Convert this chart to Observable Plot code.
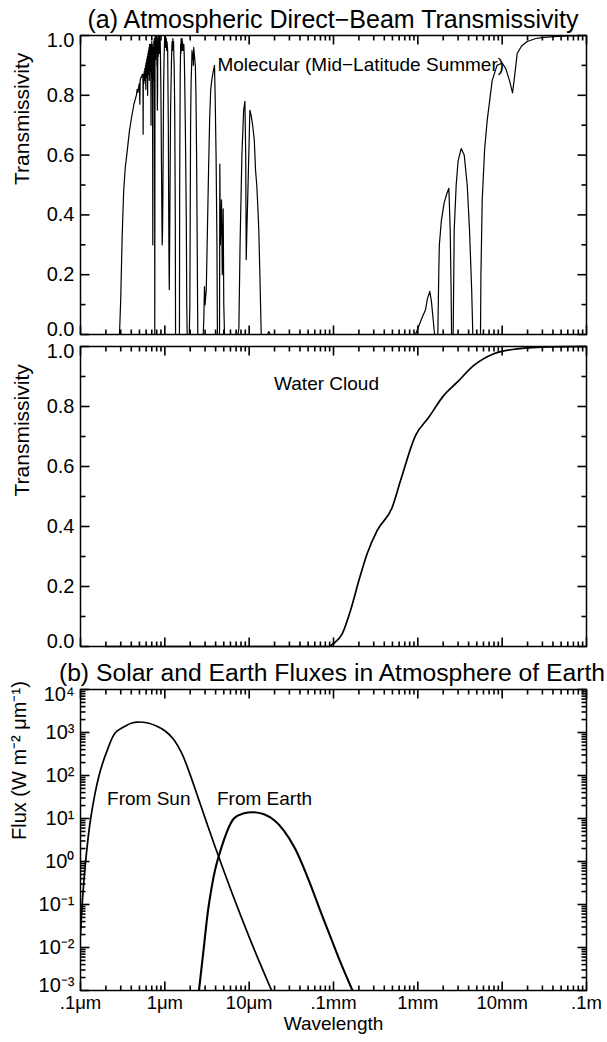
<!DOCTYPE html>
<html><head><meta charset="utf-8">
<script src="https://cdn.jsdelivr.net/npm/d3@7"></script>
<script src="https://cdn.jsdelivr.net/npm/@observablehq/plot@0.6"></script>
<style>
body{margin:0;background:#fff;}
#wrap{position:relative;width:607px;height:1042px;font-family:"Liberation Sans",Arial,Helvetica,sans-serif;color:#000;overflow:hidden;}
.title{position:absolute;height:38px;line-height:38px;text-align:center;white-space:nowrap;}
</style></head><body><div id="wrap">
<div class="title" style="top:0px;left:59px;width:548px;font-size:25px">(a) Atmospheric Direct−Beam Transmissivity</div>
<div class="title" style="top:654px;left:0px;width:664px;font-size:24.7px">(b) Solar and Earth Fluxes in Atmosphere of Earth</div>
</div>
<script>
// ---------- data ----------
const xTickValues = [0.1, 1, 10, 100, 1000, 10000, 100000];          // wavelength, µm
const xTickLabels = [".1μm", "1μm", "10μm", ".1mm", "1mm", "10mm", ".1m"];
const transTickValues = [0, 0.2, 0.4, 0.6, 0.8, 1.0];
const transTickLabels = ["0.0", "0.2", "0.4", "0.6", "0.8", "1.0"];
const fluxTickValues = [1e-3, 1e-2, 1e-1, 1, 10, 100, 1000, 10000];
const fluxTickLabels = ["10⁻³", "10⁻²", "10⁻¹", "10⁰", "10¹", "10²", "10³", "10⁴"];

// Molecular (mid-latitude summer) transmissivity
const molWl = [0.1, 0.29, 0.30, 0.312, 0.325, 0.34, 0.357, 0.38, 0.40, 0.43, 0.449, 0.46, 0.47, 0.48, 0.49, 0.50, 0.505, 0.51,
  0.52, 0.53, 0.54, 0.55, 0.553, 0.556, 0.565, 0.57, 0.575, 0.58, 0.585, 0.59, 0.595, 0.60, 0.605, 0.61, 0.615, 0.62, 0.625,
  0.63, 0.635, 0.64, 0.645, 0.65, 0.655, 0.66, 0.665, 0.67, 0.675, 0.68, 0.686, 0.69, 0.695, 0.70, 0.705, 0.71, 0.715, 0.72,
  0.725, 0.73, 0.735, 0.74, 0.745, 0.75, 0.755, 0.76, 0.765, 0.77, 0.775, 0.78, 0.785, 0.79, 0.795, 0.80, 0.805, 0.81, 0.815,
  0.82, 0.825, 0.83, 0.835, 0.84, 0.845, 0.85, 0.855, 0.86, 0.865, 0.87, 0.875, 0.88, 0.885,
  0.89, 0.90, 0.91, 0.92, 0.93, 0.94, 0.95, 0.96, 0.97, 0.98, 0.99, 1.0, 1.01, 1.02, 1.03, 1.04, 1.05, 1.06, 1.08, 1.10, 1.11,
  1.12, 1.13, 1.14, 1.15, 1.17, 1.2, 1.21, 1.22, 1.23, 1.245, 1.26, 1.27, 1.28, 1.29, 1.31, 1.33, 1.34, 1.49, 1.50, 1.52, 1.54,
  1.55, 1.56, 1.57, 1.58, 1.59, 1.6, 1.61, 1.62, 1.63, 1.64, 1.66, 1.68, 1.7, 1.72, 1.75, 1.78, 1.8, 1.82, 1.84, 1.95, 1.98,
  2.0, 2.02, 2.05, 2.08, 2.1, 2.12, 2.15, 2.18, 2.2, 2.25, 2.3, 2.34, 2.38, 2.42, 2.46, 2.85, 2.9, 2.95, 3.0, 3.1, 3.2, 3.3,
  3.4, 3.5, 3.6, 3.75, 3.88, 3.95, 4.05, 4.15, 4.2, 4.45, 4.49, 4.55, 4.7, 4.8, 4.92, 5.0, 5.1, 7.35, 7.55, 7.8, 8.2, 8.6,
  8.9, 9.1, 9.23, 9.4, 9.7, 10.2, 10.6, 11.0, 11.5, 11.9, 12.3, 12.7, 13.0, 13.4, 13.9, 16.5, 17.1, 17.8,
  937, 1000, 1100, 1233, 1300, 1387, 1450, 1520, 1578, 1726, 1775, 1800, 1900, 2050, 2200, 2333, 2420, 2480, 2512,
  2624, 2700, 2850, 3000, 3266, 3550, 3850, 4100, 4350, 4487, 5533, 5600, 5800, 6200, 6650, 7620, 8700, 10000, 11000,
  12200, 13270, 14000, 15070, 17000, 19800, 25000, 31200, 50000, 100000];
const molT = [0, 0, 0.12, 0.33, 0.48, 0.56, 0.61, 0.68, 0.72, 0.77, 0.79, 0.80, 0.82, 0.81, 0.83, 0.84, 0.77, 0.85,
  0.86, 0.86, 0.87, 0.87, 0.67, 0.87, 0.84, 0.88, 0.85, 0.89, 0.86, 0.90, 0.82, 0.91, 0.87, 0.92, 0.86, 0.93, 0.80,
  0.94, 0.88, 0.95, 0.87, 0.96, 0.85, 0.97, 0.88, 0.97, 0.90, 0.96, 0.70, 0.97, 0.90, 0.98, 0.86, 0.97, 0.80, 0.30,
  0.75, 0.96, 0.85, 0.98, 0.90, 0.99, 0.93, 0.0, 0.97, 1.0, 0.92, 0.99, 0.94, 1.0, 0.95, 1.0, 0.90, 0.93, 0.75,
  0.80, 0.95, 0.99, 0.93, 1.0, 0.95, 1.0, 0.96, 1.0, 0.94, 1.0, 0.97, 0.99, 0.95,
  0.90, 0.80, 0.60, 0.45, 0.30, 0.35, 0.50, 0.70, 0.85, 0.93, 0.97, 0.99, 0.96, 1.0, 0.97, 0.99, 0.95, 0.98, 0.95, 0.70, 0.45,
  0.25, 0.15, 0.30, 0.45, 0.75, 0.92, 0.96, 0.98, 0.95, 0.99, 0.96, 0.98, 0.93, 0.90, 0.75, 0.40, 0.0, 0.0, 0.50, 0.85, 0.97,
  0.94, 0.99, 0.96, 0.98, 0.95, 0.99, 0.96, 0.98, 0.95, 0.97, 0.95, 0.97, 0.93, 0.85, 0.70, 0.50, 0.35, 0.10, 0.0, 0.0, 0.10,
  0.40, 0.70, 0.85, 0.90, 0.95, 0.92, 0.94, 0.90, 0.96, 0.93, 0.90, 0.80, 0.60, 0.30, 0.0, 0.0, 0.05, 0.16, 0.10, 0.15, 0.35, 0.55,
  0.72, 0.82, 0.85, 0.88, 0.90, 0.80, 0.60, 0.30, 0.0, 0.0, 0.57, 0.30, 0.45, 0.20, 0.42, 0.10, 0.0, 0.0, 0.02, 0.30, 0.60, 0.75,
  0.78, 0.60, 0.25, 0.35, 0.50, 0.75, 0.73, 0.70, 0.65, 0.55, 0.50, 0.42, 0.35, 0.20, 0.0, 0.0, 0.01, 0.0,
  0.0, 0.02, 0.05, 0.083, 0.12, 0.144, 0.11, 0.05, 0.0, 0.0, 0.22, 0.3, 0.38, 0.44, 0.47, 0.489, 0.35, 0.15, 0.0,
  0.0, 0.35, 0.5, 0.58, 0.622, 0.6, 0.5, 0.35, 0.15, 0.0, 0.0, 0.2, 0.45, 0.62, 0.717, 0.85, 0.9, 0.908, 0.89,
  0.85, 0.808, 0.86, 0.94, 0.965, 0.98, 0.99, 0.994, 0.998, 1.0];

// Water cloud transmissivity
const cloudWl = [0.2, 89, 96.6, 126.8, 159, 200, 251, 330, 497, 624, 938, 1349, 2032, 2931, 4613, 7962, 15070, 37410, 97700];
const cloudT  = [0, 0, 0.007, 0.042, 0.12, 0.22, 0.31, 0.387, 0.464, 0.553, 0.703, 0.764, 0.837, 0.881, 0.937, 0.976, 0.992, 0.999, 1.0];

// Fluxes, W m^-2 µm^-1
const sunWl   = [0.1, 0.1047, 0.115, 0.132, 0.166, 0.209, 0.26, 0.355, 0.407, 0.47, 0.631, 0.794, 1.0, 1.259, 1.585, 1.995,
  2.512, 3.162, 3.981, 5.012, 6.31, 7.943, 10, 12.59, 15.85, 19.95];
const sunFlux = [0.02, 0.1, 1, 10, 100, 400, 1000, 1480, 1660, 1750, 1660, 1413, 1096, 708, 331, 105,
  28.2, 7.6, 2.09, 0.60, 0.178, 0.055, 0.0174, 0.0058, 0.002, 0.0007];
const earthWl   = [2.54, 2.90, 3.33, 4.18, 6.58, 8.5, 11.35, 15, 20, 25.8, 35, 50, 70, 92.3, 120, 168];
const earthFlux = [0.001, 0.01, 0.1, 1, 10, 13, 14, 12.5, 9, 5.25, 2, 0.4, 0.07, 0.0174, 0.0047, 0.001];

// ---------- helpers ----------
const FONT = '"Liberation Sans", Arial, Helvetica, sans-serif';
const W = 607, ML = 80, MR = 21, innerW = W - ML - MR;
const X_LO = 0.1, X_HI = 1e5;
const zip = (xs, ys) => xs.map((x, i) => ({x, y: ys[i]}));
const xMinor = [];
for (let e = -1; e < 5; e++) for (let m = 2; m <= 9; m++) xMinor.push(m * 10 ** e);

// inward tick marks on all four sides, drawn as short segments (lengths converted from pixels)
function boxTicks(innerH, yMaj, yMin, yLog, yDomain) {
  const xPx = innerW / 6;
  const ya = yDomain[0], yb = yDomain[1];
  const yUp = L => yLog ? ya * 10 ** (L * Math.log10(yb / ya) / innerH) : ya + L * (yb - ya) / innerH;
  const yDn = L => yLog ? yb / 10 ** (L * Math.log10(yb / ya) / innerH) : yb - L * (yb - ya) / innerH;
  const segs = [];
  let id = 0;
  const add = (x1, y1, x2, y2) => { segs.push({x: x1, y: y1, id}, {x: x2, y: y2, id}); id++; };
  [[xTickValues, 9], [xMinor, 5]].forEach(([vals, L]) => vals.forEach(v => { add(v, ya, v, yUp(L)); add(v, yDn(L), v, yb); }));
  [[yMaj, 9], [yMin, 5]].forEach(([vals, L]) => vals.forEach(v => { add(X_LO, v, X_LO * 10 ** (L / xPx), v); add(X_HI / 10 ** (L / xPx), v, X_HI, v); }));
  return [
    Plot.line(segs, {x: "x", y: "y", z: "id", stroke: "#000", strokeWidth: 1.6, strokeLinecap: "butt"}),
    Plot.frame({stroke: "#000", strokeWidth: 1.5})
  ];
}
function yLabels(vals, labels, size) {
  const n = vals.length;
  return Plot.text(vals, {y: d => d, text: (d, i) => labels[i], frameAnchor: "left", textAnchor: "end", dx: -6,
    fontSize: size, fill: "#000",
    // the end labels sit just inside the frame, as in the reference
    render: (index, scales, values, dims, ctx, next) => {
      const g = next(index, scales, values, dims, ctx);
      g.querySelectorAll("text").forEach((t, k) => {
        const i = index[k];
        if (i === 0) t.setAttribute("transform", (t.getAttribute("transform") || "") + " translate(0,-5)");
        if (i === n - 1) t.setAttribute("transform", (t.getAttribute("transform") || "") + " translate(0,5)");
      });
      return g;
    }});
}
function yTitle(t, size, dx) {
  return Plot.text([t], {frameAnchor: "left", rotate: -90, dx, fontSize: size, fill: "#000"});
}
const transMinor = [0.1, 0.3, 0.5, 0.7, 0.9];
const style = {fontFamily: FONT, background: "transparent", overflow: "visible"};
const wrap = document.getElementById("wrap");
function place(svg, top) { svg.style.position = "absolute"; svg.style.top = top + "px"; svg.style.left = "0px"; wrap.appendChild(svg); }

// ---------- panel 1 ----------
const p1 = Plot.plot({
  width: W, height: 352, marginTop: 35, marginBottom: 18, marginLeft: ML, marginRight: MR, style,
  x: {type: "log", domain: [X_LO, X_HI], axis: null}, y: {domain: [0, 1], axis: null},
  marks: [
    Plot.line(zip(molWl, molT), {x: "x", y: "y", stroke: "#000", strokeWidth: 1.2}),
    ...boxTicks(299, transTickValues, transMinor, false, [0, 1]),
    yLabels(transTickValues, transTickLabels, 20),
    yTitle("Transmissivity", 21, -58),
    Plot.text(["Molecular (Mid−Latitude Summer)"], {x: 4.2, y: 0.9, textAnchor: "start", fontSize: 19, fill: "#000"})
  ]
});
place(p1, 0);

// ---------- panel 2 ----------
const p2 = Plot.plot({
  width: W, height: 340, marginTop: 18, marginBottom: 22, marginLeft: ML, marginRight: MR, style,
  x: {type: "log", domain: [X_LO, X_HI], axis: null}, y: {domain: [0, 1], axis: null},
  marks: [
    Plot.line(zip(cloudWl, cloudT), {x: "x", y: "y", stroke: "#000", strokeWidth: 1.7, curve: "monotone-x"}),
    ...boxTicks(300, transTickValues, transMinor, false, [0, 1]),
    yLabels(transTickValues, transTickLabels, 20),
    yTitle("Transmissivity", 21, -58),
    Plot.text(["Water Cloud"], {x: 82.6, y: 0.875, textAnchor: "middle", fontSize: 19, fill: "#000"})
  ]
});
place(p2, 328);

// ---------- panel 3 ----------
const fluxMinor = [];
for (let e = -3; e < 4; e++) for (let m = 2; m <= 9; m++) fluxMinor.push(m * 10 ** e);
const p3 = Plot.plot({
  width: W, height: 390, marginTop: 37, marginBottom: 52, marginLeft: ML, marginRight: MR, style,
  x: {type: "log", domain: [X_LO, X_HI], axis: null}, y: {type: "log", domain: [1e-3, 1e4], axis: null},
  marks: [
    Plot.line(zip(sunWl, sunFlux), {x: "x", y: "y", stroke: "#000", strokeWidth: 1.7, curve: "catmull-rom", clip: true}),
    Plot.line(zip(earthWl, earthFlux), {x: "x", y: "y", stroke: "#000", strokeWidth: 2.1, curve: "catmull-rom", clip: true}),
    ...boxTicks(301, fluxTickValues, fluxMinor, true, [1e-3, 1e4]),
    yLabels(fluxTickValues, fluxTickLabels, 20),
    yTitle("Flux (W m⁻² μm⁻¹)", 20, -61),
    Plot.text(xTickValues, {x: d => d, text: (d, i) => xTickLabels[i], frameAnchor: "bottom", dy: 18, fontSize: 18.5, fill: "#000"}),
    Plot.text(["Wavelength"], {frameAnchor: "bottom", dy: 39, fontSize: 19, fill: "#000"}),
    Plot.text(["From Sun"], {x: 0.645, y: 29, textAnchor: "middle", fontSize: 19, fill: "#000"}),
    Plot.text(["From Earth"], {x: 15.2, y: 29, textAnchor: "middle", fontSize: 19, fill: "#000"})
  ]
});
place(p3, 652);
</script>
</body></html>
